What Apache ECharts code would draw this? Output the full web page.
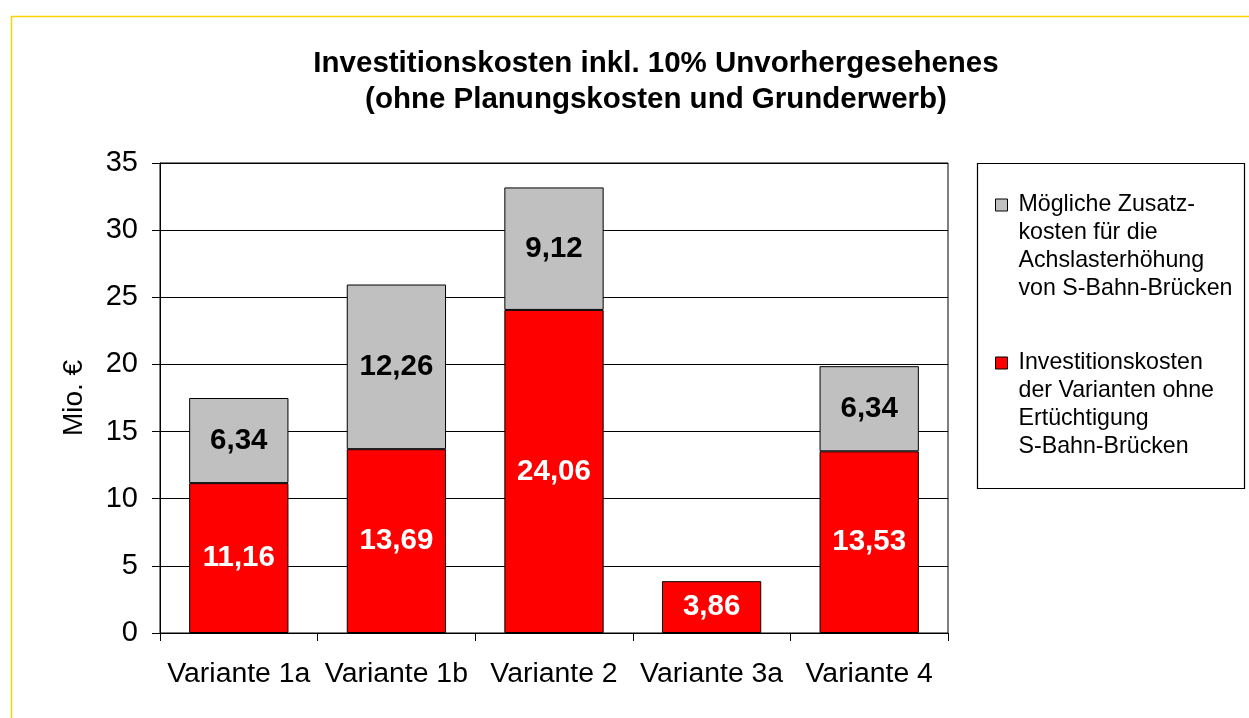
<!DOCTYPE html>
<html>
<head>
<meta charset="utf-8">
<script src="https://cdn.jsdelivr.net/npm/echarts@6/dist/echarts.min.js"></script>
<style>
  html, body { margin: 0; padding: 0; background: #fff; }
  #chart { width: 1249px; height: 718px; }
</style>
</head>
<body>
<div id="chart"></div>
<script>
const categories = ['Variante 1a', 'Variante 1b', 'Variante 2', 'Variante 3a', 'Variante 4']
const baseCosts = [11.16, 13.69, 24.06, 3.86, 13.53]
const extraCosts = [6.34, 12.26, 9.12, null, 6.34]
const yTicks = { min: 0, max: 35, interval: 5 }

const extraName = 'Zusatzkosten'
const baseName = 'Investitionskosten'
const legendText = {
  [extraName]: 'Mögliche Zusatz-\nkosten für die\nAchslasterhöhung\nvon S-Bahn-Brücken',
  [baseName]: 'Investitionskosten\nder Varianten ohne\nErtüchtigung\nS-Bahn-Brücken'
}

const FONT = '"Liberation Sans", Arial, sans-serif'
const LH = 28

// 11.16 -> "11,16"
const fmt = (p) => (p.value == null ? '' : p.value.toFixed(2).replace('.', ','))

const chart = echarts.init(document.getElementById('chart'))

chart.setOption({
  animation: false,
  backgroundColor: '#fff',
  textStyle: { fontFamily: FONT },
  title: {
    text: 'Investitionskosten inkl. 10% Unvorhergesehenes\n(ohne Planungskosten und Grunderwerb)',
    left: 656,
    top: 46,
    padding: 0,
    textAlign: 'center',
    textStyle: { fontFamily: FONT, fontSize: 29.5, fontWeight: 'bold', color: '#000', lineHeight: 36 }
  },
  graphic: [
    {
      type: 'rect',
      shape: { x: 11.5, y: 16.5, width: 1400, height: 900 },
      style: { fill: null, stroke: '#FFD200', lineWidth: 1.5 },
      silent: true
    },
    {
      type: 'rect',
      shape: { x: 977.5, y: 163.5, width: 267, height: 325 },
      style: { fill: null, stroke: '#000', lineWidth: 1.2 },
      silent: true
    }
  ],
  legend: {
    orient: 'vertical',
    left: 995,
    top: 107,
    padding: 0,
    itemGap: -38,
    itemWidth: 12,
    itemHeight: 12,
    icon: 'rect',
    data: [extraName, baseName],
    formatter: (name) => legendText[name],
    selectedMode: false,
    itemStyle: { borderColor: '#000', borderWidth: 1 },
    textStyle: {
      fontFamily: FONT,
      fontSize: 23.2,
      color: '#000',
      lineHeight: LH,
      padding: [LH * 3, 0, 0, 6],
      rich: { a: {} }
    }
  },
  grid: { left: 160, right: 301, top: 163, bottom: 85, show: true, borderColor: '#000', borderWidth: 1 },
  xAxis: {
    type: 'category',
    data: categories,
    axisLine: { lineStyle: { color: '#000', width: 1 } },
    axisTick: { show: true, length: 8, lineStyle: { color: '#000' } },
    axisLabel: { interval: 0, fontFamily: FONT, fontSize: 28.4, color: '#000', margin: 27 }
  },
  yAxis: {
    type: 'value',
    min: yTicks.min,
    max: yTicks.max,
    interval: yTicks.interval,
    name: 'Mio. €',
    nameLocation: 'middle',
    nameGap: 72,
    nameTextStyle: { fontFamily: FONT, fontSize: 28, color: '#000' },
    axisLine: { show: true, lineStyle: { color: '#000', width: 1 } },
    axisTick: { show: true, length: 8, lineStyle: { color: '#000' } },
    axisLabel: { fontFamily: FONT, fontSize: 29, color: '#000', margin: 22 },
    splitLine: { show: true, lineStyle: { color: '#000', width: 1 } }
  },
  series: [
    {
      type: 'bar',
      name: baseName,
      stack: 'total',
      data: baseCosts,
      barCategoryGap: '37%',
      itemStyle: { color: '#FF0000', borderColor: '#000', borderWidth: 1 },
      label: {
        show: true,
        position: 'inside',
        formatter: fmt,
        fontFamily: FONT,
        fontSize: 29.5,
        fontWeight: 'bold',
        color: '#fff'
      }
    },
    {
      type: 'bar',
      name: extraName,
      stack: 'total',
      data: extraCosts,
      barCategoryGap: '37%',
      itemStyle: { color: '#C0C0C0', borderColor: '#000', borderWidth: 1 },
      label: {
        show: true,
        position: 'inside',
        formatter: fmt,
        fontFamily: FONT,
        fontSize: 29.5,
        fontWeight: 'bold',
        color: '#000'
      }
    }
  ]
})
</script>
</body>
</html>
